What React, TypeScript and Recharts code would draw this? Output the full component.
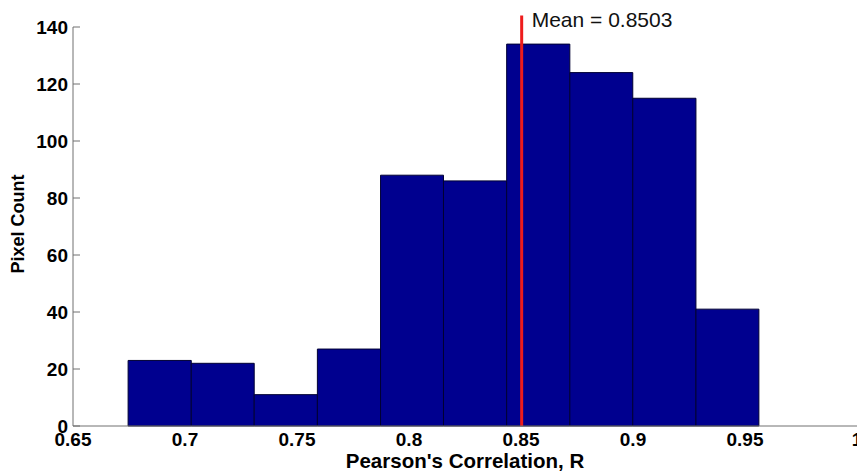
import { ComposedChart, XAxis, YAxis, ReferenceArea, ReferenceLine } from "recharts";

// histogram of per-pixel correlation values
const binEdges = [0.6746, 0.7028, 0.7309, 0.7591, 0.7873, 0.8154, 0.8436, 0.8718, 0.8999, 0.9281, 0.9562];
const pixelCounts = [23, 22, 11, 27, 88, 86, 134, 124, 115, 41];
const xTicks = [0.65, 0.7, 0.75, 0.8, 0.85, 0.9, 0.95, 1];
const yTicks = [0, 20, 40, 60, 80, 100, 120, 140];
const meanR = 0.8503;
const meanLineTop = 144;

const FONT = "'Liberation Sans', Arial, Helvetica, sans-serif";
const BAR_FILL = "#00008f";
const AXIS_GRAY = "#707070";

const bins = pixelCounts.map((count, i) => ({
  lo: binEdges[i],
  hi: binEdges[i + 1],
  count,
}));

function YTick(props: any) {
  const { x, y, payload } = props;
  return (
    <g>
      <line x1={x + 5} x2={x + 12} y1={y} y2={y} stroke={AXIS_GRAY} />
      <text
        x={x}
        y={y}
        dy="0.36em"
        textAnchor="end"
        fontFamily={FONT}
        fontWeight="bold"
        fontSize={19}
        fill="#000"
      >
        {payload.value}
      </text>
    </g>
  );
}

function MeanLabel(props: any) {
  const vb = props.viewBox || {};
  return (
    <text x={vb.x + 10} y={vb.y + 11} fontFamily={FONT} fontSize={21} fill="#111">
      {`Mean = ${meanR}`}
    </text>
  );
}

function XTitle(props: any) {
  const vb = props.viewBox || {};
  return (
    <text
      x={vb.x + vb.width / 2}
      y={468}
      textAnchor="middle"
      fontFamily={FONT}
      fontWeight="bold"
      fontSize={20.5}
      fill="#000"
    >
      Pearson's Correlation, R
    </text>
  );
}

function YTitle() {
  return (
    <text
      x={18}
      y={224}
      transform="rotate(-90, 18, 224)"
      textAnchor="middle"
      dominantBaseline="central"
      fontFamily={FONT}
      fontWeight="bold"
      fontSize={18}
      fill="#000"
    >
      Pixel Count
    </text>
  );
}

export default function App() {
  return (
    <div style={{ position: "absolute", left: 0, top: 0, background: "#fff" }}>
      <ComposedChart
        width={857}
        height={471}
        data={bins}
        margin={{ top: 27, right: 0, bottom: 0, left: 0 }}
      >
        <XAxis
          dataKey="lo"
          type="number"
          domain={[0.65, 1]}
          ticks={xTicks}
          allowDataOverflow
          height={45}
          tickLine={false}
          tickSize={0}
          tickMargin={7}
          axisLine={{ stroke: AXIS_GRAY }}
          tick={{ fontFamily: FONT, fontWeight: "bold", fontSize: 19, fill: "#000" }}
          interval={0}
          label={<XTitle />}
        />
        <YAxis
          type="number"
          domain={[0, 140]}
          ticks={yTicks}
          allowDataOverflow
          width={73}
          tickLine={false}
          tickSize={0}
          tickMargin={5}
          axisLine={{ stroke: AXIS_GRAY }}
          tick={<YTick />}
          interval={0}
          label={<YTitle />}
        />
        {bins.map((b, i) => (
          <ReferenceArea
            key={`bin-${i}`}
            x1={b.lo}
            x2={b.hi}
            y1={0}
            y2={b.count}
            fill={BAR_FILL}
            fillOpacity={1}
            stroke="#000033"
            strokeWidth={1}
          />
        ))}
        <ReferenceLine
          segment={[
            { x: meanR, y: 0 },
            { x: meanR, y: meanLineTop },
          ]}
          ifOverflow="visible"
          stroke="#ee1c1c"
          strokeWidth={3}
          label={<MeanLabel />}
        />
      </ComposedChart>
    </div>
  );
}
